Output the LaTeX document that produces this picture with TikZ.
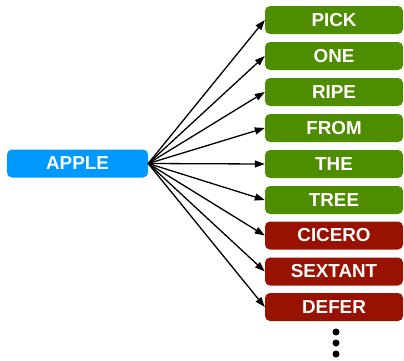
\documentclass[tikz,border=0pt]{standalone}
\usepackage{fontspec}
\setmainfont{Liberation Sans}
\usetikzlibrary{arrows.meta}
\definecolor{srcblue}{HTML}{0099FF}
\definecolor{leafgreen}{HTML}{4E8C00}
\definecolor{leafred}{HTML}{991100}
\tikzset{
  box/.style={rounded corners=5pt, minimum height=28pt, inner sep=0pt,
    text=white, font=\bfseries\fontsize{18.8}{18.8}\selectfont},
  srcbox/.style={box, fill=srcblue, minimum width=141pt},
  goodbox/.style={box, fill=leafgreen, minimum width=138pt},
  badbox/.style={box, fill=leafred, minimum width=138pt},
  link/.style={line width=1.3pt, -{Triangle[length=10pt,width=7pt]}},
  dot/.style={circle, fill=black, minimum size=7pt, inner sep=0pt}
}
\begin{document}
\begin{tikzpicture}[x=1pt,y=-1pt]
\useasboundingbox (0,0) rectangle (404,360);
\node[srcbox] (apple) at (77.5,163.5) {APPLE};
\node[goodbox] (pick)    at (334,20)  {PICK};
\node[goodbox] (one)     at (334,56)  {ONE};
\node[goodbox] (ripe)    at (334,92)  {RIPE};
\node[goodbox] (from)    at (334,128) {FROM};
\node[goodbox] (the)     at (334,164) {THE};
\node[goodbox] (tree)    at (334,200) {TREE};
\node[badbox]  (cicero)  at (334,235.5) {CICERO};
\node[badbox]  (sextant) at (334,271.5) {SEXTANT};
\node[badbox]  (defer)   at (334,307) {DEFER};
\foreach \t in {pick,one,ripe,from,the,tree,cicero,sextant,defer}
  \draw[link] (apple.east) -- (\t.west);
\node[dot] (d1) at (336,332) {};
\node[dot] (d2) at (336,343) {};
\node[dot] (d3) at (336,354) {};
\end{tikzpicture}
\end{document}
